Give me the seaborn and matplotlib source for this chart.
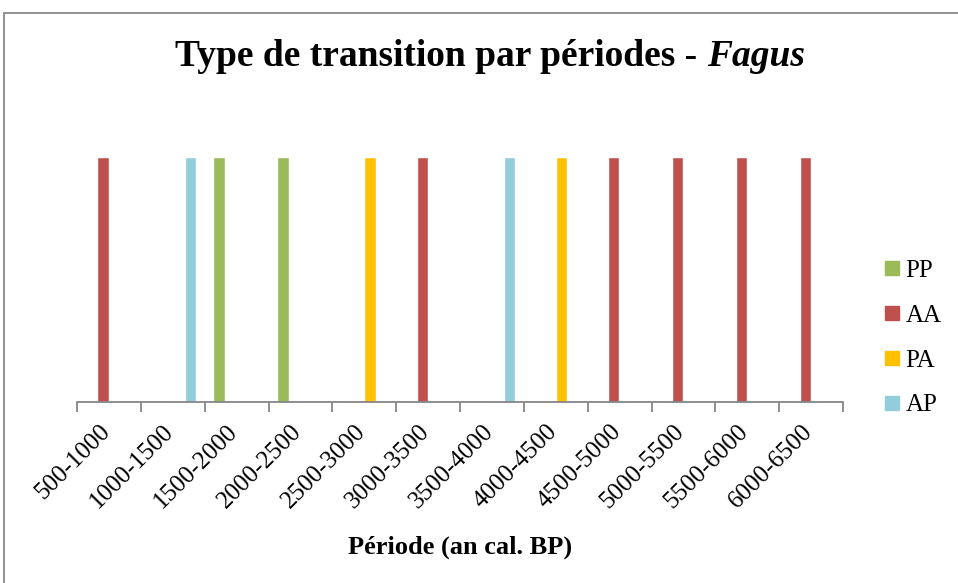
import matplotlib
matplotlib.use("Agg")
import matplotlib.pyplot as plt
import matplotlib.transforms as mtransforms
import seaborn as sns
import pandas as pd
from matplotlib.patches import Rectangle
from matplotlib.lines import Line2D

periodes = ["500-1000", "1000-1500", "1500-2000", "2000-2500", "2500-3000", "3000-3500",
            "3500-4000", "4000-4500", "4500-5000", "5000-5500", "5500-6000", "6000-6500"]
series = ["PP", "AA", "PA", "AP"]
PP = [0, 0, 1, 1, 0, 0, 0, 0, 0, 0, 0, 0]
AA = [1, 0, 0, 0, 0, 1, 0, 0, 1, 1, 1, 1]
PA = [0, 0, 0, 0, 1, 0, 0, 1, 0, 0, 0, 0]
AP = [0, 1, 0, 0, 0, 0, 1, 0, 0, 0, 0, 0]
colors = {"PP": "#9BBB59", "AA": "#C0504D", "PA": "#FFC000", "AP": "#92CDDC"}

rows = []
for name, vals in zip(series, [PP, AA, PA, AP]):
    for p, v in zip(periodes, vals):
        rows.append({"periode": p, "type": name, "valeur": v})
df = pd.DataFrame(rows)

sns.set_theme(style="white")
plt.rcParams["font.family"] = ["Liberation Serif", "DejaVu Serif"]
plt.rcParams["text.color"] = "black"
plt.rcParams["axes.labelcolor"] = "black"
plt.rcParams["xtick.color"] = "black"

fig = plt.figure(figsize=(9.58, 5.83), dpi=100)
ax = fig.add_axes([77/958, 1 - 402/583, 766/958, 294/583])

sns.barplot(data=df, x="periode", y="valeur", hue="type", hue_order=series,
            order=periodes, palette=colors, width=0.73, gap=0.02, dodge=True,
            saturation=1, legend=False, ax=ax, errorbar=None)

ax.set_xlim(-0.5, len(periodes) - 0.5)
ax.set_ylim(0, 1.2)
ax.set_yticks([])
ax.set_ylabel("")
for s in ["top", "right", "left"]:
    ax.spines[s].set_visible(False)
ax.spines["bottom"].set_color("#868686")
ax.spines["bottom"].set_linewidth(1.3)

ax.set_xticks(range(len(periodes)))
ax.set_xticklabels(periodes, rotation=45, ha="right", va="top", rotation_mode="anchor",
                   fontsize=18, color="black")
ax.tick_params(axis="x", which="major", length=0, pad=13)
shift = mtransforms.ScaledTranslation(-10/100, 0, fig.dpi_scale_trans)
for lab in ax.get_xticklabels():
    lab.set_transform(lab.get_transform() + shift)
ax.set_xticks([i - 0.5 for i in range(len(periodes) + 1)], minor=True)
ax.tick_params(axis="x", which="minor", length=7, width=1.3, color="#868686", bottom=True)

ax.set_xlabel("Période (an cal. BP)", fontsize=19, fontweight="bold", color="black")
ax.xaxis.set_label_coords(0.5, -(536 - 402) / 294)

# Title: two pieces (regular bold + italic bold), centred together
title_y = 1 - 57/583
t1 = fig.text(0, title_y, "Type de transition par périodes - ", fontsize=27,
              fontweight="bold", ha="left", va="center", color="black")
t2 = fig.text(0, title_y, "Fagus", fontsize=27, fontweight="bold", style="italic",
              ha="left", va="center", color="black")
r = fig.canvas.get_renderer()
w1 = t1.get_window_extent(r).width
w2 = t2.get_window_extent(r).width
x0 = 490 - (w1 + w2) / 2
t1.set_x(x0 / 958)
t2.set_x((x0 + w1) / 958)

handles = [Line2D([0], [0], marker="s", linestyle="none", markersize=10,
                  markerfacecolor=colors[s], markeredgecolor=colors[s]) for s in series]
leg = fig.legend(handles, series, loc="center left", bbox_to_anchor=(884/958, 1 - 338/583),
                 frameon=False, fontsize=18, labelspacing=0.89, handlelength=0.6,
                 handletextpad=0.25, borderpad=0, borderaxespad=0)
for t in leg.get_texts():
    t.set_color("black")

fig.add_artist(Rectangle((4/958, -0.1), 1.2, 1 - 13/583 + 0.1, transform=fig.transFigure,
                         fill=False, edgecolor="#898989", linewidth=1.3))

fig.savefig("out.png", dpi=100)
